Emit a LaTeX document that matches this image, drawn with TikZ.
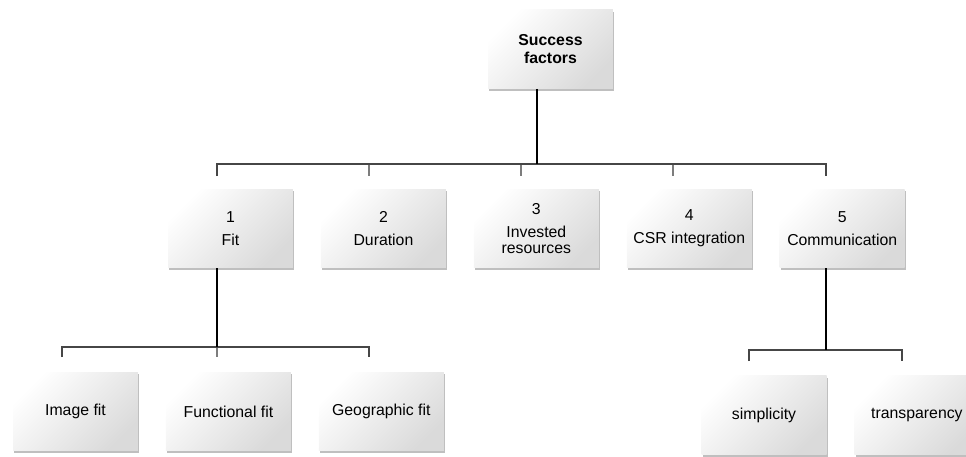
\documentclass[tikz,border=0pt]{standalone}
\usepackage{fontspec}
\setmainfont{Liberation Sans}
\usetikzlibrary{positioning, shadows, calc}
\definecolor{boxgray}{RGB}{218,218,218}
\definecolor{busgray}{RGB}{70,70,70}
\definecolor{tickgray}{RGB}{125,125,125}
\tikzset{
  bx/.style={top color=white, bottom color=boxgray, shading angle=45,
             minimum width=2.5cm, minimum height=1.58cm, align=center,
             inner sep=2pt, font=\fontsize{9}{9.5}\selectfont,
             drop shadow={shadow xshift=0.7pt, shadow yshift=-1.3pt,
                          opacity=0.25, fill=black}},
  bus/.style={draw=busgray, line width=0.6pt},
  tck/.style={draw=tickgray, line width=0.6pt},
  stem/.style={draw=black, line width=0.85pt},
}

\begin{document}
\begin{tikzpicture}[x=0.02cm, y=-0.02cm]
  \useasboundingbox (0,0) rectangle (966,456);
  % top node
  \node[bx, font=\fontsize{9}{10.3}\selectfont\bfseries] (top) at (550.5,49) {Success\\factors};
  % second row
  \node[bx] (f1) at (230.5,228.5) {1\\[3.5pt]Fit};
  \node[bx, right=0.545cm of f1] (f2) {2\\[3.5pt]Duration};
  \node[bx, right=0.545cm of f2] (f3) {3\\[3.5pt]Invested\\resources};
  \node[bx, right=0.545cm of f3] (f4) {4\\[3.5pt]CSR integration};
  \node[bx, right=0.545cm of f4] (f5) {5\\[3.5pt]Communication};
  % third row, under Fit
  \node[bx] (s1) at (75.5,411.5) {Image fit};
  \node[bx, right=0.545cm of s1] (s2) {Functional fit};
  \node[bx, right=0.545cm of s2] (s3) {Geographic fit};
  % third row, under Communication
  \node[bx] (c1) at (764,415) {simplicity};
  \node[bx, right=0.545cm of c1] (c2) {transparency};

  % bus to second row
  \coordinate (hub) at (537,164);
  \foreach \xx/\nm in {217/a1,369/a2,521/a3,673/a4,826/a5}{
    \coordinate (\nm) at (\xx,164);
    \coordinate (\nm t) at (\xx,176);
    \draw[tck] (\nm) -- (\nm t);
  }
  \draw[bus] (a1t) -- (a1) -- (a5) -- (a5t);
  \draw[stem] (top.south -| hub) -- (hub);

  % bus to Fit children
  \foreach \xx/\nm in {62/b1,217/b2,369/b3}{
    \coordinate (\nm) at (\xx,347);
    \coordinate (\nm t) at (\xx,357);
    \draw[tck] (\nm) -- (\nm t);
  }
  \draw[bus] (b1t) -- (b1) -- (b3) -- (b3t);
  \draw[stem] (f1.south -| b2) -- (b2);

  % bus to Communication children
  \coordinate (d0) at (826,350);
  \coordinate (d1) at (749,350);
  \coordinate (d1t) at (749,361);
  \coordinate (d2) at (902,350);
  \coordinate (d2t) at (902,361);
  \draw[bus] (d1t) -- (d1) -- (d2) -- (d2t);
  \draw[stem] (f5.south -| d0) -- (d0);
\end{tikzpicture}
\end{document}
